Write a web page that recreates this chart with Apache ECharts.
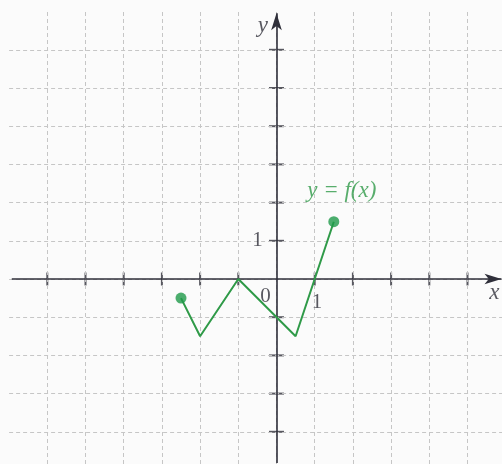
<!DOCTYPE html>
<html>
<head>
<meta charset="utf-8">
<script src="https://cdn.jsdelivr.net/npm/echarts@6/dist/echarts.min.js"></script>
<style>
html, body {margin: 0; padding: 0; background: #fbfbfb;}
#graph {width: 502px; height: 464px;}
</style>
</head>
<body>
<div id="graph"></div>
<script>
// broken line y = f(x)
var fX = [-2.5, -2, -1, 0.5, 1.5];
var fY = [-0.5, -1.5, 0, -1.5, 1.5];
var endX = [-2.5, 1.5];
var endY = [-0.5, 1.5];
// dashed grid lines
var gridX = [-6, -5, -4, -3, -2, -1, 0, 1, 2, 3, 4, 5];
var gridY = [-4, -3, -2, -1, 0, 1, 2, 3, 4, 5, 6];
// tick marks on the axes
var xTicks = [-6, -5, -4, -3, -2, -1, 1, 2, 3, 4, 5];
var yTicks = [-4, -3, -2, -1, 1, 2, 3, 4, 5, 6];
// axis extents (from, to)
var xAxisSpan = [-6.93, 5.89];
var yAxisSpan = [-4.82, 6.96];

var myChart = echarts.init(document.getElementById('graph'));

var serif = '"Liberation Serif", "DejaVu Serif", serif';
var ink = '#2f2f3a';
var green = '#2f9a48';
var unit = 38.2;

function pairs(xs, ys) {
	return xs.map(function(x, i) { return [x, ys[i]]; });
}

function txt(x, y, s, style) {
	return {
		value: [x, y],
		label: Object.assign({show: true, formatter: s, position: 'inside', fontFamily: serif, fontSize: 21, color: ink}, style || {})
	};
}

var option = {
	backgroundColor: '#fbfbfb',
	animation: false,
	grid: {left: 9.1, right: 0, top: 11.6, bottom: 0, containLabel: false},
	xAxis: {
		type: 'value', min: -7, max: -7 + (502 - 9.1) / unit,
		axisLine: {show: false}, axisTick: {show: false}, axisLabel: {show: false},
		splitLine: {show: false}
	},
	yAxis: {
		type: 'value', min: 7 - (464 - 11.6) / unit, max: 7,
		axisLine: {show: false}, axisTick: {show: false}, axisLabel: {show: false},
		splitLine: {show: false}
	},
	series: [{
		// dashed grid
		name: 'grid',
		type: 'line',
		data: [],
		silent: true,
		z: 1,
		markLine: {
			silent: true,
			symbol: ['none', 'none'],
			label: {show: false},
			lineStyle: {color: '#c6c6c6', width: 1, type: [4, 3]},
			data: gridX.map(function(v) { return {xAxis: v}; })
				.concat(gridY.map(function(v) { return {yAxis: v}; }))
		}
	}, {
		// coordinate axes with arrows
		name: 'axes',
		type: 'line',
		data: [],
		silent: true,
		z: 3,
		markLine: {
			silent: true,
			symbol: ['none', 'arrow'],
			symbolSize: [8, 17],
			label: {show: false},
			lineStyle: {color: ink, width: 1.6, type: 'solid'},
			data: [
				[{coord: [xAxisSpan[0], 0]}, {coord: [xAxisSpan[1], 0]}],
				[{coord: [0, yAxisSpan[0]]}, {coord: [0, yAxisSpan[1]]}]
			]
		}
	}, {
		type: 'scatter',
		silent: true,
		symbol: 'rect',
		symbolSize: [2, 13],
		itemStyle: {color: ink},
		z: 3,
		data: xTicks.map(function(v) { return [v, 0]; })
	}, {
		type: 'scatter',
		silent: true,
		symbol: 'rect',
		symbolSize: [15, 2],
		itemStyle: {color: ink},
		z: 3,
		data: yTicks.map(function(v) { return [0, v]; })
	}, {
		type: 'line',
		silent: true,
		data: pairs(fX, fY),
		showSymbol: false,
		lineStyle: {color: green, width: 2},
		z: 5
	}, {
		type: 'scatter',
		silent: true,
		data: pairs(endX, endY),
		symbolSize: 11,
		itemStyle: {color: '#1f9a4a'},
		z: 6
	}, {
		// text on the picture
		type: 'scatter',
		silent: true,
		symbolSize: 0,
		data: [
			txt(-0.29, -0.47, '0'),
			txt(1.06, -0.62, '1'),
			txt(-0.5, 1.0, '1'),
			txt(5.7, -0.36, 'x', {fontStyle: 'italic', fontSize: 23}),
			txt(-0.36, 6.62, 'y', {fontStyle: 'italic', fontSize: 23}),
			txt(1.71, 2.31, 'y = f(x)', {fontStyle: 'italic', fontSize: 23, color: green})
		],
		z: 7
	}]
};

myChart.setOption(option);
</script>
</body>
</html>
